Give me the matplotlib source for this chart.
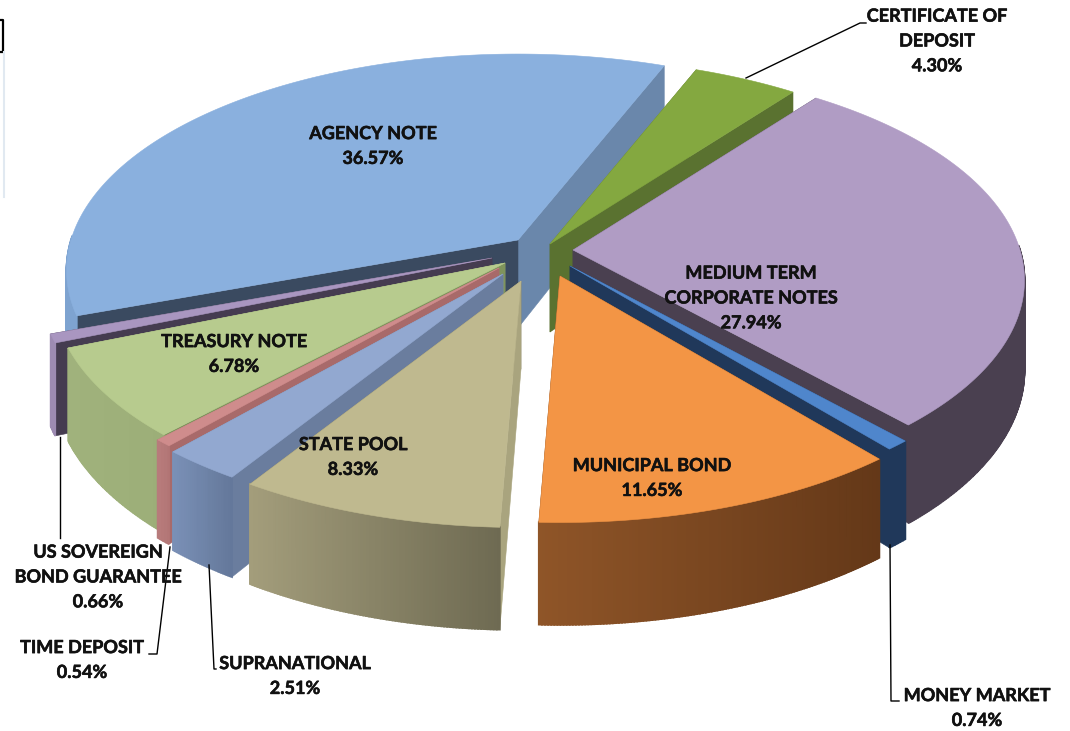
"""Exploded 3D pie of portfolio holdings, drawn as projected polygons."""

import matplotlib

matplotlib.use("Agg")
import matplotlib.patheffects as pe
import matplotlib.pyplot as plt
import numpy as np
from matplotlib.colors import to_rgb

# data, clockwise from the top of the pie
names = [
    "CERTIFICATE OF\nDEPOSIT", "MEDIUM TERM\nCORPORATE NOTES", "MONEY MARKET",
    "MUNICIPAL BOND", "STATE POOL", "SUPRANATIONAL", "TIME DEPOSIT",
    "TREASURY NOTE", "US SOVEREIGN\nBOND GUARANTEE", "AGENCY NOTE",
]
shares = [4.30, 27.94, 0.74, 11.65, 8.33, 2.51, 0.54, 6.78, 0.66, 36.57]

# layout
START = 21.7
RX, RY, PERSP, DEPTH = 447, 212, 0.14, 88
apex = [
    (550, 244), (573, 250), (570, 266), (560, 276), (521, 281),
    (503, 274), (499, 268), (505, 263), (492, 258), (518, 240),
]
top_col = [
    "#84a840", "#b09cc4", "#4f86cc", "#f39545", "#bfb98f",
    "#92a8d0", "#cf8c8c", "#b7cb8e", "#a996c0", "#8ab0de",
]
# outer wall colour at its left and right ends
wall_l = [
    "#5a7230", "#4a4050", "#20385a", "#8f5528", "#a39d7b",
    "#7a90b6", "#b87c7c", "#a0b27c", "#9d8bb2", "#7ea3d0",
]
wall_r = [
    "#5a7230", "#4a4050", "#20385a", "#643818", "#6e6a52",
    "#64789a", "#b27575", "#9cae78", "#9d8bb2", "#7ea3d0",
]
# wall on the cut at the start and end of each slice
cut_start = [
    "#5a7230", "#4a4050", "#20385a", "#643818", "#a9a47e",
    "#6a7d9e", "#a86a6a", "#7f945c", "#453c50", "#3a4a60",
]
cut_end = [
    "#5a7230", "#4a4050", "#20385a", "#643818", "#7d7960",
    "#7a90b6", "#b27575", "#9cae78", "#453c50", "#6a87ab",
]
order = [9, 0, 1, 8, 7, 6, 5, 2, 3, 4]  # back to front


def project(i, theta, drop=0.0, r=1.0):
    """Disc angle (deg, clockwise from top) to pixel position for slice i."""
    t = np.radians(theta)
    xd, yd = r * np.sin(t), r * np.cos(t)
    s = 1 / (1 + PERSP * yd)
    return apex[i][0] + RX * xd * s, apex[i][1] - RY * yd * s + drop * s


def mix(a, b, f):
    a, b = np.array(to_rgb(a)), np.array(to_rgb(b))
    return tuple(a + (b - a) * f)


def draw_slice(ax, i, t0, t1):
    thetas = np.linspace(t0, t1, max(int(t1 - t0) * 3, 4) + 1)
    ax0, ay0 = apex[i]

    # the cut facing away goes down first
    cuts = [(t0, cut_start[i]), (t1, cut_end[i])]
    if np.sin(np.radians(t0)) < 0:
        cuts.reverse()
    for th, col in cuts:
        x, y = project(i, th)
        xb, yb = project(i, th, DEPTH)
        ax.fill([ax0, x, xb, ax0], [ay0, y, yb, ay0 + DEPTH], color=col, lw=0.4)

    # outer wall, only the part that faces the viewer
    xs = [project(i, th)[0] for th in thetas]
    xmin, xmax = min(xs), max(xs)
    for a, b in zip(thetas[:-1], thetas[1:]):
        if np.cos(np.radians((a + b) / 2)) > 0.02:
            continue
        xa, ya = project(i, a)
        xb, yb = project(i, b)
        xc, yc = project(i, b, DEPTH)
        xd, yd = project(i, a, DEPTH)
        f = ((xa + xb) / 2 - xmin) / max(xmax - xmin, 1)
        col = mix(wall_l[i], wall_r[i], f)
        ax.fill([xa, xb, xc, xd], [ya, yb, yc, yd], color=col, lw=1.3)

    px, py = project(i, thetas)
    ax.fill(
        np.r_[ax0, px], np.r_[ay0, py], color=top_col[i], lw=0.4, zorder=2,
    )


fig = plt.figure(figsize=(10.7, 7.31), dpi=100)
ax = fig.add_axes([0, 0, 1, 1])
ax.set_xlim(0, 1070)
ax.set_ylim(731, 0)
ax.axis("off")

edges = START + np.r_[0, np.cumsum(shares)] / sum(shares) * 360
zo = 1
for k in order:
    # each slice gets its own layer so later ones paint over earlier ones
    n_before = len(ax.patches)
    draw_slice(ax, k, edges[k], edges[k + 1])
    for p in ax.patches[n_before:]:
        p.set_zorder(zo + (0.5 if p.get_zorder() == 2 else 0))
    zo += 1

# leader lines
leaders = [
    ([746, 860, 866], [78, 23, 23]),
    ([60, 60], [437, 538]),
    ([170, 157, 149], [547, 654, 654]),
    ([209, 214, 216], [565, 669, 669]),
    ([890, 891, 899], [545, 701, 701]),
]
for lx, ly in leaders:
    ax.plot(lx, ly, color="black", lw=1.0, zorder=30)

# stray frame at the left edge of the source picture
ax.plot([0, 3, 3, 0], [20, 20, 52, 52], color="black", lw=1.6, zorder=30)
ax.plot([4, 4], [52, 197], color="#e1e9f1", lw=1.5, zorder=30)

label_pos = [
    (937, 41), (751, 298), (977, 708), (652, 478), (353, 457),
    (295, 676), (82, 660), (234, 354), (98, 577), (373, 146),
]
for name, val, (lx, ly) in zip(names, shares, label_pos):
    ax.text(
        lx, ly, f"{name}\n{val:.2f}%", ha="center", va="center",
        family="Lato", fontweight="bold", fontsize=13.0, color="#111111",
        linespacing=1.56, zorder=40,
        path_effects=[pe.withStroke(linewidth=0.4, foreground="#111111")],
    )

plt.savefig("out.png", dpi=100)
